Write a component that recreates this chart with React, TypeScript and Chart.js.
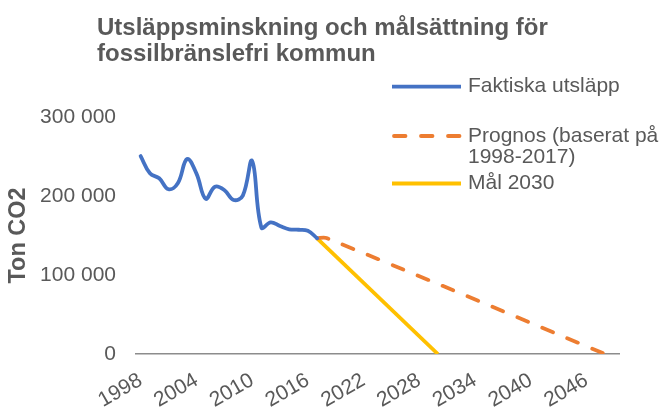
import React, { useEffect, useRef } from 'react';
import { Chart, registerables } from 'chart.js';

Chart.register(...registerables);

const years = [
  '1998', '1999', '2000', '2001', '2002', '2003', '2004', '2005', '2006', '2007',
  '2008', '2009', '2010', '2011', '2012', '2013', '2014', '2015', '2016', '2017',
  '2018', '2019', '2020', '2021', '2022', '2023', '2024', '2025', '2026', '2027',
  '2028', '2029', '2030', '2031', '2032', '2033', '2034', '2035', '2036', '2037',
  '2038', '2039', '2040', '2041', '2042', '2043', '2044', '2045', '2046', '2047',
  '2048', '2049',
];

const tickYears = ['1998', '2004', '2010', '2016', '2022', '2028', '2034', '2040', '2046'];

const actualYears = [
  '1998', '1999', '2000', '2001', '2002', '2003', '2004', '2005', '2006', '2007',
  '2008', '2009', '2010', '2011', '2012', '2013', '2014', '2015', '2016', '2017',
];
const actualValues = [
  250500, 228700, 222400, 208500, 216000, 246800, 228700, 196500, 211800, 207600,
  195000, 200500, 244500, 160000, 166700, 162000, 157800, 157300, 156000, 146500,
];

const prognosYears = ['2017', '2018', '2048'];
const prognosValues = [146500, 146800, 0];

const goalYears = ['2017', '2030'];
const goalValues = [146500, 0];

const seriesLabels = ['Faktiska utsläpp', 'Prognos (baserat på 1998-2017)', 'Mål 2030'];
const legendLines = [['Faktiska utsläpp'], ['Prognos (baserat på', '1998-2017)'], ['Mål 2030']];
const titleLines = ['Utsläppsminskning och målsättning för', 'fossilbränslefri kommun'];
const yTitle = 'Ton CO2';

const colors = ['#4472C4', '#ED7D31', '#FFC000'];
const textColor = '#595959';
const FONT = '"Liberation Sans", Arial, sans-serif';

const fmt = (v: number) => String(v).replace(/\B(?=(\d{3})+(?!\d))/g, ' ');

const toPoints = (xs: string[], ys: number[]) => xs.map((x, i) => ({ x, y: ys[i] }));

const overlayPlugin = {
  id: 'overlayText',
  afterDraw(chart: any) {
    const ctx = chart.ctx as CanvasRenderingContext2D;
    ctx.save();
    // title
    ctx.fillStyle = textColor;
    ctx.textAlign = 'left';
    ctx.textBaseline = 'alphabetic';
    ctx.font = `bold 24px ${FONT}`;
    ctx.fillText(titleLines[0], 97, 35);
    ctx.fillText(titleLines[1], 97, 61);

    // legend
    const rowsY = [86.7, 136, 183.5];
    const lineH = 21.5;
    chart.data.datasets.forEach((ds: any, i: number) => {
      const y = rowsY[i];
      const dashed = ds.borderDash && ds.borderDash.length;
      ctx.beginPath();
      ctx.strokeStyle = ds.borderColor;
      ctx.lineWidth = ds.borderWidth;
      ctx.lineCap = dashed ? 'round' : 'butt';
      ctx.setLineDash(ds.borderDash || []);
      ctx.moveTo(dashed ? 394 : 392, y);
      ctx.lineTo(dashed ? 459.5 : 461, y);
      ctx.stroke();
      ctx.setLineDash([]);
      ctx.fillStyle = textColor;
      ctx.font = `21px ${FONT}`;
      ctx.textBaseline = 'middle';
      legendLines[i].forEach((t, j) => ctx.fillText(t, 468, y + j * lineH));
    });
    ctx.restore();
  },
};

export default function App() {
  const ref = useRef<HTMLCanvasElement | null>(null);

  useEffect(() => {
    document.body.style.margin = '0';
    if (!ref.current) return;
    const chart = new Chart(ref.current, {
      type: 'line',
      data: {
        labels: years,
        datasets: [
          {
            label: seriesLabels[0],
            data: toPoints(actualYears, actualValues),
            borderColor: colors[0],
            backgroundColor: colors[0],
            borderWidth: 3.8,
            pointRadius: 0,
            tension: 0.4,
            borderCapStyle: 'round',
            borderJoinStyle: 'round',
          },
          {
            label: seriesLabels[1],
            data: toPoints(prognosYears, prognosValues),
            borderColor: colors[1],
            backgroundColor: colors[1],
            borderWidth: 3.8,
            borderDash: [11.5, 15.5],
            borderCapStyle: 'round',
            pointRadius: 0,
            tension: 0.3,
          },
          {
            label: seriesLabels[2],
            data: toPoints(goalYears, goalValues),
            borderColor: colors[2],
            backgroundColor: colors[2],
            borderWidth: 3.8,
            pointRadius: 0,
            tension: 0,
          },
        ],
      } as any,
      options: {
        responsive: false,
        animation: false,
        layout: { padding: { top: 117, right: 43, bottom: 0, left: 0 } },
        plugins: {
          legend: { display: false },
          title: { display: false },
          tooltip: { enabled: false },
        },
        scales: {
          x: {
            type: 'category',
            offset: true,
            grid: { display: false, drawTicks: false },
            border: { display: true, color: '#8c8c8c', width: 1.5 },
            ticks: {
              autoSkip: false,
              minRotation: 30,
              maxRotation: 30,
              padding: 14,
              color: textColor,
              font: { family: FONT, size: 21 },
              callback: (_v: any, i: number) => (tickYears.includes(years[i]) ? years[i] : ''),
            },
            afterFit: (s: any) => {
              s.height = 53;
            },
          },
          y: {
            min: 0,
            max: 300000,
            grid: { display: false, drawTicks: false },
            border: { display: false },
            ticks: {
              stepSize: 100000,
              padding: 20,
              color: textColor,
              font: { family: FONT, size: 21 },
              callback: (v: any) => fmt(Number(v)),
            },
            title: {
              display: true,
              text: yTitle,
              color: textColor,
              font: { family: FONT, size: 23.5, weight: 'bold' },
              padding: { top: 4, bottom: 0 },
            },
            afterFit: (s: any) => {
              s.width = 136;
            },
          },
        },
      } as any,
      plugins: [overlayPlugin],
    });
    return () => chart.destroy();
  }, []);

  return (
    <div style={{ width: 662, height: 407 }}>
      <canvas ref={ref} width={662} height={407} style={{ display: 'block', width: 662, height: 407 }} />
    </div>
  );
}
